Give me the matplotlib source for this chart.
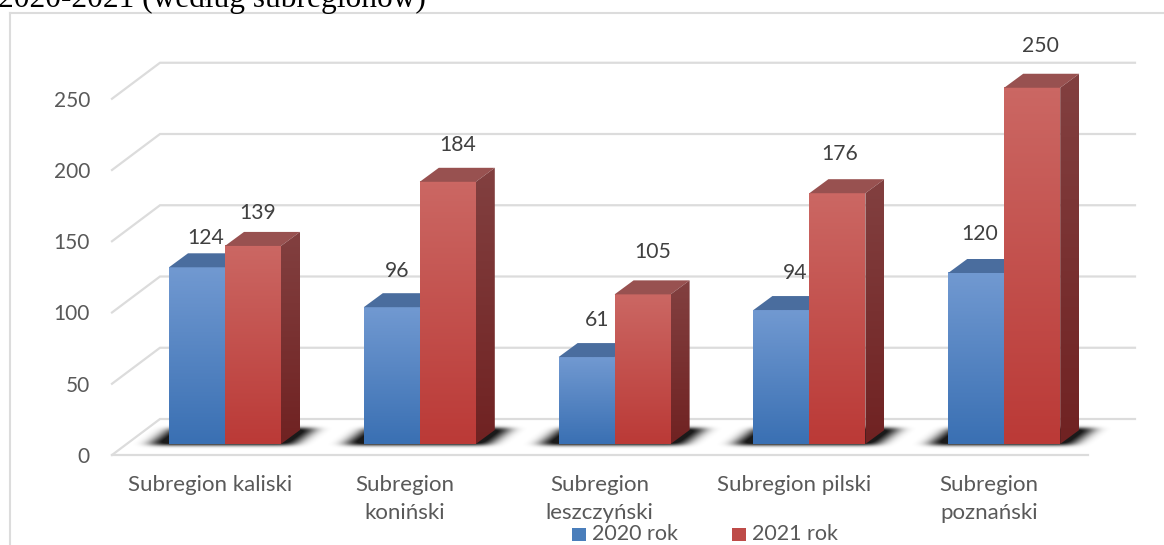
import numpy as np
import matplotlib
matplotlib.use("Agg")
import matplotlib.pyplot as plt
from matplotlib.patches import Polygon, Rectangle
from matplotlib.colors import LinearSegmentedColormap

categories = ["Subregion kaliski", "Subregion\nkoniński", "Subregion\nleszczyński",
              "Subregion pilski", "Subregion\npoznański"]
series_names = ["2020 rok", "2021 rok"]
values_2020 = [124, 96, 61, 94, 120]
values_2021 = [139, 184, 105, 176, 250]
y_ticks = [0, 50, 100, 150, 200, 250]
title_text = "2020-2021 (według subregionów)"

# label placement above each bar, in pixels relative to the top of the bar
nudge_2020 = [(-19, 29), (-23, 36), (-17, 37), (-14, 37), (-25, 39)]
nudge_2021 = [(33, 33), (38, 37), (38, 42), (30, 39), (36, 42)]

W, H = 1164, 545
U = 194.8      # px per category
V = 1.425      # px per value unit
X0 = 225.0     # px of first category centre
Y0 = 444.0     # px of value 0 at bar base
BW = 56 / U    # bar width in data
DX, DY = 19 / U, 14 / V   # bar depth
WY = 25 / V    # back wall offset

fig = plt.figure(figsize=(W / 100, H / 100), dpi=100)
ax = fig.add_axes([0, 0, 1, 1])
ax.set_xlim(-X0 / U, (W - X0) / U)
ax.set_ylim((Y0 - H) / V, Y0 / V)
ax.axis("off")
FONT = "Lato"
GRID = "#dcdcdc"

def px(x):
    return (x - X0) / U

def py(y):
    return (Y0 - y) / V

def gradient(x0, x1, y0, y1, top, bottom, clip=None, z=3):
    cmap = LinearSegmentedColormap.from_list("g", [bottom, top])
    im = ax.imshow(np.linspace(1, 0, 64).reshape(-1, 1), extent=(x0, x1, y0, y1), cmap=cmap,
                   aspect="auto", zorder=z, interpolation="bilinear", origin="upper")
    if clip is not None:
        p = Polygon(clip, closed=True, transform=ax.transData, fc="none", ec="none")
        ax.add_patch(p)
        im.set_clip_path(p)
    return im

# frame and clipped heading
ax.plot([px(10)] * 2, [py(13), py(H)], color=GRID, lw=1.5, zorder=1)
ax.plot([px(10), px(W)], [py(13), py(13)], color=GRID, lw=1.5, zorder=1)
ax.text(px(-2), py(7), title_text, family="Liberation Serif", fontsize=22.6,
        color="black", ha="left", va="baseline", zorder=6)

# walls
xl, xb, xr, floor_r = px(112), px(160), px(1135), px(1088)
for t in y_ticks:
    yy = t + WY
    ax.plot([xl, xb, xr], [t - 11 / V, yy, yy], color=GRID, lw=1.6, zorder=1,
            solid_joinstyle="miter")
    ax.text(px(90), t - 13 / V, str(t), family=FONT, fontsize=15, color="#595959",
            ha="right", va="center")
ax.plot([xl, floor_r], [-11 / V, -11 / V], color=GRID, lw=1.6, zorder=1)

# bars
BLUE = dict(front=("#7199d1", "#3a70b3"), top="#4a6d9e", side=("#3d5f8f", "#2a4f80"))
RED = dict(front=("#cb6763", "#bb3a37"), top="#985150", side=("#824040", "#702222"))

def blurred_shadow():
    """Soft floor shadow as an alpha image, in pixels relative to the group centre."""
    xs = np.arange(-120, 136)
    ys = np.arange(-6, 32)
    gx, gy = np.meshgrid(xs, ys)
    lean = gy * 1.35
    mask = ((gx > -74 + lean) & (gx < 70 + lean) & (gy >= -1) & (gy <= 15)).astype(float)
    kernel = np.exp(-0.5 * (np.arange(-20, 21) / 8.0) ** 2)
    kernel /= kernel.sum()
    vk = np.exp(-0.5 * (np.arange(-6, 7) / 1.8) ** 2)
    vk /= vk.sum()
    blur = np.apply_along_axis(lambda r: np.convolve(r, kernel, mode="same"), 1, mask)
    blur = np.apply_along_axis(lambda r: np.convolve(r, vk, mode="same"), 0, blur)
    rgba = np.zeros(blur.shape + (4,))
    rgba[..., 3] = np.clip(blur * 1.1, 0, 0.9)
    return rgba, xs, ys

SHADOW, SX, SY = blurred_shadow()

def shadow(c):
    ax.imshow(SHADOW, extent=(c + SX[0] / U, c + SX[-1] / U, SY[0] / V, SY[-1] / V), origin="lower",
              aspect="auto", zorder=2, interpolation="bilinear")

def bar(x, w, v, st):
    gradient(x, x + w, 0, v, st["front"][0], st["front"][1], z=4)
    ax.add_patch(Polygon([(x, v), (x + w, v), (x + w + DX, v + DY), (x + DX, v + DY)],
                         closed=True, fc=st["top"], ec="none", zorder=4))
    side = [(x + w, 0), (x + w + DX, DY), (x + w + DX, v + DY), (x + w, v)]
    gradient(x + w, x + w + DX, 0, v + DY, st["side"][0], st["side"][1], clip=side, z=4)

for i, (a, b) in enumerate(zip(values_2020, values_2021)):
    shadow(i)
    bar(i - BW, BW, a, BLUE)
    bar(i, BW, b, RED)
    ax.text(i + nudge_2020[i][0] / U, a + nudge_2020[i][1] / V, str(a), family=FONT, fontsize=15.2,
            color="#404040", ha="center", va="center", zorder=5)
    ax.text(i + nudge_2021[i][0] / U, b + nudge_2021[i][1] / V, str(b), family=FONT, fontsize=15.2,
            color="#404040", ha="center", va="center", zorder=5)
    ax.text(i - 15 / U, py(475), categories[i], family=FONT, fontsize=16, color="#595959",
            ha="center", va="top", linespacing=1.53)

# legend
for name, c, p in zip(series_names, ["#4a7ebb", "#be4b48"], [572, 732]):
    ax.add_patch(Rectangle((px(p), py(541)), 14 / U, 13 / V, fc=c, ec="none", zorder=5))
    ax.text(px(p + 20), py(534), name, family=FONT, fontsize=15.5, color="#595959",
            ha="left", va="center", zorder=5)

ax.set_xlim(-X0 / U, (W - X0) / U)
ax.set_ylim((Y0 - H) / V, Y0 / V)
fig.savefig("out.png", dpi=100)
